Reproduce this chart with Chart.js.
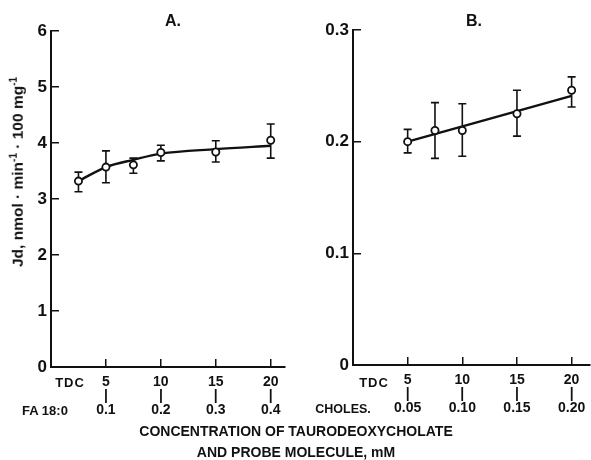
<!DOCTYPE html>
<html>
<head>
<meta charset="utf-8">
<script src="https://cdn.jsdelivr.net/npm/chart.js@4"></script>
<style>
  body { margin: 0; background: #fff; }
  #wrap { position: relative; width: 591px; height: 460px; overflow: hidden; font-family: "Liberation Sans", Arial, sans-serif; color: #111; font-weight: bold; }
  canvas { position: absolute; top: 0; }
  .t { position: absolute; white-space: nowrap; line-height: 1; }
  .c { transform: translate(-50%, -50%); }
  sup { font-size: 10px; vertical-align: 6px; }
</style>
</head>
<body>
<div id="wrap">
  <canvas id="chartA" width="292" height="460" style="left:0"></canvas>
  <canvas id="chartB" width="296" height="460" style="left:300px"></canvas>
  <div class="t c" style="left:173px;top:21px;font-size:16px">A.</div>
  <div class="t c" style="left:474px;top:21px;font-size:16px">B.</div>
  <div class="t c" style="left:17px;top:172px;font-size:15.5px;transform:translate(-50%,-50%) rotate(-90deg)">Jd, nmol · min<sup>-1</sup> · 100 mg<sup>-1</sup></div>
  <div class="t c" style="left:70px;top:382px;font-size:13px;letter-spacing:1px">TDC</div>
  <div class="t c" style="left:45px;top:410px;font-size:13px">FA 18:0</div>
  <div class="t c" style="left:374px;top:382px;font-size:13px;letter-spacing:1px">TDC</div>
  <div class="t c" style="left:343px;top:409px;font-size:12.5px">CHOLES.</div>
  <div class="t c" style="left:296px;top:431px;font-size:14px">CONCENTRATION OF TAURODEOXYCHOLATE</div>
  <div class="t c" style="left:296px;top:452px;font-size:14px">AND PROBE MOLECULE, mM</div>
</div>
<script>
// panel A: FA 18:0 probe
const xA = [2.5, 5, 7.5, 10, 15, 20];
const meanA = [3.32, 3.57, 3.61, 3.83, 3.84, 4.05];
const hiA = [3.48, 3.86, 3.73, 3.96, 4.04, 4.34];
const loA = [3.13, 3.29, 3.46, 3.68, 3.66, 3.73];
const fitA = [3.32, 3.57, 3.70, 3.81, 3.89, 3.95];
const tickA = [5, 10, 15, 20];
const tickA2 = ['0.1', '0.2', '0.3', '0.4'];

// panel B: cholesterol probe
const xB = [5, 7.5, 10, 15, 20];
const meanB = [0.200, 0.210, 0.210, 0.225, 0.246];
const hiB = [0.211, 0.235, 0.234, 0.246, 0.258];
const loB = [0.190, 0.185, 0.187, 0.205, 0.231];
const fitXB = [5, 20];
const fitB = [0.200, 0.241];
const tickB = [5, 10, 15, 20];
const tickB2 = ['0.05', '0.10', '0.15', '0.20'];

const ink = '#111';
const fam = '"Liberation Sans", Arial, sans-serif';

const errorBars = {
    id: 'errorBars',
    beforeDatasetsDraw(chart) {
        const eb = chart.options.plugins.errorBars;
        const xs = chart.scales.x, ys = chart.scales.y;
        const c = chart.ctx;
        c.save();
        c.strokeStyle = ink;
        c.lineWidth = 1.6;
        eb.x.forEach((v, i) => {
            const px = xs.getPixelForValue(v);
            const top = ys.getPixelForValue(eb.hi[i]);
            const bot = ys.getPixelForValue(eb.lo[i]);
            c.beginPath();
            c.moveTo(px, top); c.lineTo(px, bot);
            c.moveTo(px - 4, top); c.lineTo(px + 4, top);
            c.moveTo(px - 4, bot); c.lineTo(px + 4, bot);
            c.stroke();
        });
        c.restore();
    }
};

function panel(id, opts) {
    const pts = opts.x.map((v, i) => ({x: v, y: opts.mean[i]}));
    const fit = opts.fitX.map((v, i) => ({x: v, y: opts.fit[i]}));
    const config = {
        type: 'scatter',
        data: {
            datasets: [{
                data: pts,
                pointRadius: 3.6,
                pointBorderWidth: 1.8,
                pointBackgroundColor: '#fff',
                pointBorderColor: ink
            }, {
                data: fit,
                showLine: true,
                pointRadius: 0,
                borderColor: ink,
                borderWidth: 2.4,
                cubicInterpolationMode: 'monotone'
            }]
        },
        options: {
            responsive: false,
            animation: false,
            layout: {padding: opts.pad},
            plugins: {
                legend: {display: false},
                tooltip: {enabled: false},
                errorBars: {x: opts.x, hi: opts.hi, lo: opts.lo}
            },
            scales: {
                x: {
                    type: 'linear', min: 0, max: opts.xmax,
                    afterBuildTicks: s => { s.ticks = opts.ticks.map(v => ({value: v})); },
                    afterFit: s => { s.height = 50; s.paddingLeft = 0; s.paddingRight = 0; },
                    ticks: {
                        color: ink, padding: 16, maxRotation: 0, autoSkip: false,
                        font: {family: fam, size: 14, weight: 'bold', lineHeight: '14px'},
                        callback: (v, i) => [String(opts.ticks[i]), '|', opts.ticks2[i]]
                    },
                    grid: {drawOnChartArea: false, tickLength: -8, color: ink, lineWidth: 1.5},
                    border: {color: ink, width: 2}
                },
                y: {
                    min: 0, max: opts.ymax,
                    afterFit: s => { s.width = opts.yw; s.paddingTop = 0; s.paddingBottom = 0; },
                    ticks: {
                        color: ink, padding: 12, stepSize: opts.ystep,
                        font: {family: fam, size: 17, weight: 'bold'},
                        callback: opts.ylab
                    },
                    grid: {drawOnChartArea: false, tickLength: -8, color: ink, lineWidth: 1.5},
                    border: {color: ink, width: 2}
                }
            }
        },
        plugins: [errorBars]
    };
    new Chart(document.getElementById(id).getContext('2d'), config);
}

panel('chartA', {
    x: xA, mean: meanA, hi: hiA, lo: loA, fitX: xA, fit: fitA,
    ticks: tickA, ticks2: tickA2, xmax: 21.3, ymax: 6, ystep: 1, yw: 51,
    ylab: v => String(v),
    pad: {top: 31, right: 7, bottom: 43, left: 0}
});

panel('chartB', {
    x: xB, mean: meanB, hi: hiB, lo: loB, fitX: fitXB, fit: fitB,
    ticks: tickB, ticks2: tickB2, xmax: 21.7, ymax: 0.3, ystep: 0.1, yw: 53,
    ylab: v => v === 0 ? '0' : v.toFixed(1),
    pad: {top: 30, right: 0, bottom: 45, left: 0}
});
</script>
</body>
</html>
